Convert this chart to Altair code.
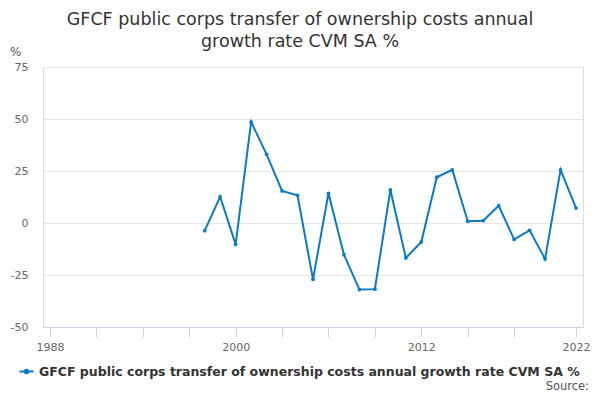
import altair as alt
import pandas as pd

years = list(range(1998, 2023))
values = [-3.7, 12.6, -10.3, 48.6, 33.0, 15.4, 13.3, -27.1, 14.3, -15.2,
          -32.0, -31.8, 15.9, -16.8, -9.1, 22.0, 25.6, 0.8, 1.1, 8.3,
          -7.9, -3.5, -17.3, 25.6, 7.2]
series_name = "GFCF public corps transfer of ownership costs annual growth rate CVM SA %"
x_ticks = [1988, 1991, 1994, 1997, 2000, 2003, 2006, 2009, 2012, 2015, 2018, 2022]
x_labels = [1988, 2000, 2012, 2022]
y_ticks = [-50, -25, 0, 25, 50, 75]

df = pd.DataFrame({"year": years, "value": values, "series": series_name})

FONT = "DejaVu Sans"
LINE = "#0b7bc1"

label_expr = "indexof([" + ",".join(str(v) for v in x_labels) + "], datum.value) >= 0 ? datum.value : ''"

base = alt.Chart(df)

line = base.mark_line(strokeWidth=2, point=alt.OverlayMarkDef(size=14, filled=True, color=LINE)).encode(
    x=alt.X("year:Q", scale=alt.Scale(domain=[1987.55, 2022.45], nice=False, zero=False),
            axis=alt.Axis(values=x_ticks, labelExpr=label_expr, title=None, grid=False,
                          domainColor="#ccd6eb", tickColor="#ccd6eb", tickSize=10,
                          labelColor="#666666", labelFontSize=11, labelFont=FONT,
                          labelPadding=4, labelFlush=False)),
    y=alt.Y("value:Q", scale=alt.Scale(domain=[-50, 75], nice=False),
            axis=alt.Axis(values=y_ticks, labelExpr="'' + datum.value", title=None,
                          domain=False, ticks=False,
                          gridColor="#e6e6e6", labelColor="#666666", labelFontSize=11,
                          labelFont=FONT, labelPadding=15)),
    color=alt.Color("series:N", scale=alt.Scale(range=[LINE]),
                    legend=alt.Legend(title=None, orient="none", legendX=-25, legendY=296,
                                      labelFont=FONT, labelFontSize=12.5, labelFontWeight="bold",
                                      labelColor="#333333", symbolStrokeWidth=2,
                                      symbolType="M-1,0H1M-0.25,0A0.25,0.25 0 1,1 0.25,0A0.25,0.25 0 1,1 -0.25,0",
                                      symbolSize=200, labelLimit=600)),
)

pct = alt.Chart(pd.DataFrame({"t": ["%"]})).mark_text(
    font=FONT, fontSize=12, color="#555555", align="left", baseline="middle"
).encode(x=alt.value(-33), y=alt.value(-15), text="t:N")

source = alt.Chart(pd.DataFrame({"t": ["Source:"]})).mark_text(
    font=FONT, fontSize=11.5, color="#555555", align="right", baseline="bottom"
).encode(x=alt.value(546), y=alt.value(325), text="t:N")

chart = alt.layer(line, pct, source).properties(
    width=540, height=260,
    title=alt.TitleParams(
        ["GFCF public corps transfer of ownership costs annual", "growth rate CVM SA %"],
        font=FONT, fontSize=17.5, fontWeight="normal", color="#333333",
        anchor="middle", frame="group", dx=-13, dy=20, offset=16, lineHeight=22),
    autosize=alt.AutoSizeParams(type="none"),
    padding={"left": 35, "top": 59, "right": 9, "bottom": 65},
).configure_view(stroke=None).configure(background="white")

chart.save("out.html", embed_options={"renderer": "svg", "actions": False})
